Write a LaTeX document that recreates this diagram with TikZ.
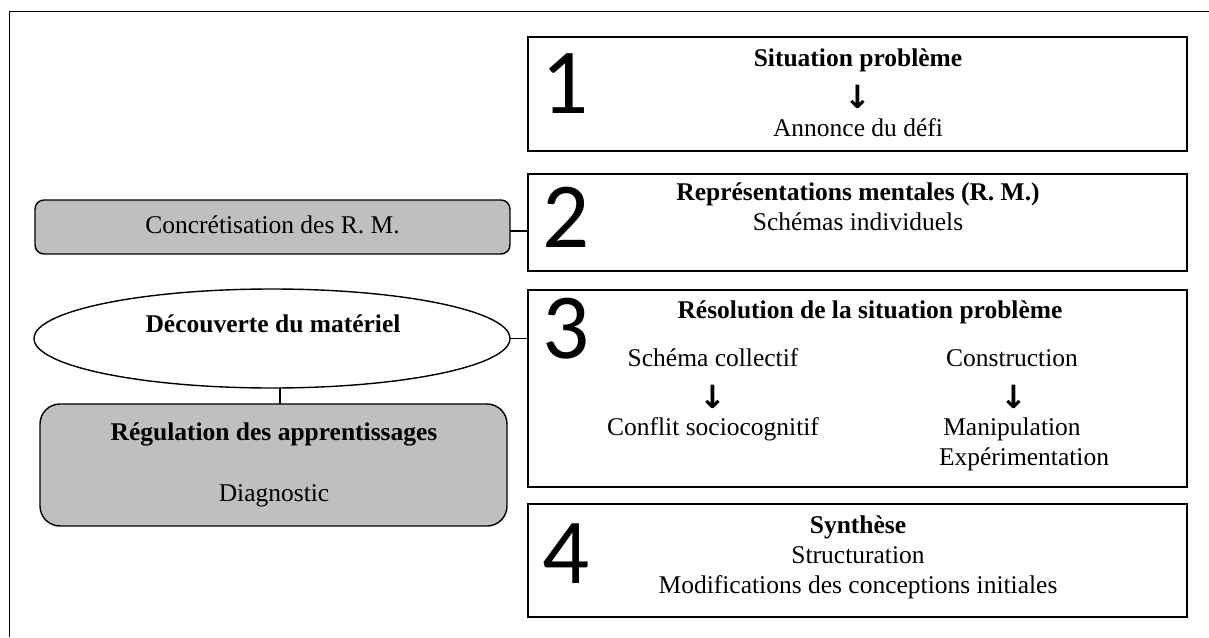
\documentclass[tikz,border=0pt]{standalone}
\usepackage{fontspec}
\setmainfont{Liberation Serif}
\newfontfamily\digitfont{Carlito}
\newfontfamily\arrowfont{DejaVu Sans}
\usetikzlibrary{shapes.geometric}
\definecolor{boxgray}{RGB}{191,191,191}
\tikzset{
  every node/.style={font=\fontsize{25.5}{30}\selectfont, inner sep=0pt, outer sep=0pt},
  stagebox/.style={draw=black, line width=1.8pt, fill=white, anchor=north west, minimum width=659pt},
  greybox/.style={draw=black, line width=1.4pt, fill=boxgray, rounded corners=#1},
  txt/.style={anchor=base},
  btxt/.style={anchor=base, font=\fontsize{25.5}{30}\selectfont\bfseries},
  arr/.style={anchor=center, font=\fontsize{32}{36}\selectfont\arrowfont\bfseries},
  digit/.style={anchor=center, font=\fontsize{93}{93}\selectfont\digitfont},
  conn/.style={draw=black, line width=1.3pt},
  frame/.style={draw=black, line width=1.5pt}
}
\begin{document}
\begin{tikzpicture}[x=1pt, y=-1pt]
\useasboundingbox (0,0) rectangle (1209,637);
\draw[frame] (9.7,637) -- (9.7,11.7) -- (1209,11.7);

% stage boxes
\node[stagebox, minimum height=114pt] (b1) at (528,37) {};
\node[stagebox, minimum height=97pt] (b2) at (528,174) {};
\node[stagebox, minimum height=197pt] (b3) at (528,290) {};
\node[stagebox, minimum height=113pt] (b4) at (528,504) {};

% left nodes
\node[greybox=9pt, minimum width=475pt, minimum height=54pt] (g1) at (272.5,227) {};
\node[ellipse, draw=black, line width=1.4pt, fill=white, minimum width=476pt, minimum height=99pt] (ell) at (272,338.5) {};
\node[greybox=20pt, minimum width=467pt, minimum height=122pt] (reg) at (273.5,465) {};

% connectors
\draw[conn] ([yshift=-4pt]g1.east) -- ([yshift=-4pt]g1.east -| b2.west);
\draw[conn] (ell.east) -- (ell.east -| b3.west);
\coordinate (cx) at (280,0);
\draw[conn] (ell.south -| cx) -- (reg.north -| cx);

% digits
\node[digit] (d1) at (565.5,83.5) {1};
\node[digit] (d2) at (566,217.5) {2};
\node[digit] (d3) at (566,329) {3};
\node[digit] (d4) at (566,553.5) {4};

% box 1
\node[btxt] (t1a) at (858,66.7) {Situation problème};
\node[arr] (a1) at (858,96.5) {↓};
\node[txt] (t1b) at (858,136.7) {Annonce du défi};

% box 2
\node[btxt] (t2a) at (858,200) {Représentations mentales (R. M.)};
\node[txt] (t2b) at (858,230) {Schémas individuels};

% box 3
\node[btxt] (t3a) at (870,318) {Résolution de la situation problème};
\node[txt] (t3b) at (713,366) {Schéma collectif};
\node[txt] (t3c) at (1012,366) {Construction};
\node[arr] (a3l) at (713,397) {↓};
\node[arr] (a3r) at (1014,397) {↓};
\node[txt] (t3d) at (713,435) {Conflit sociocognitif};
\node[txt] (t3e) at (1012,435) {Manipulation};
\node[txt] (t3f) at (1024,465) {Expérimentation};

% box 4
\node[btxt] (t4a) at (858,533) {Synthèse};
\node[txt] (t4b) at (858,563) {Structuration};
\node[txt] (t4c) at (858,593) {Modifications des conceptions initiales};

% left texts
\node[txt] (tg1) at (272.5,233) {Concrétisation des R. M.};
\node[btxt] (tell) at (273,332) {Découverte du matériel};
\node[btxt] (treg) at (274,440) {Régulation des apprentissages};
\node[txt] (treg2) at (274,501) {Diagnostic};
\end{tikzpicture}
\end{document}
